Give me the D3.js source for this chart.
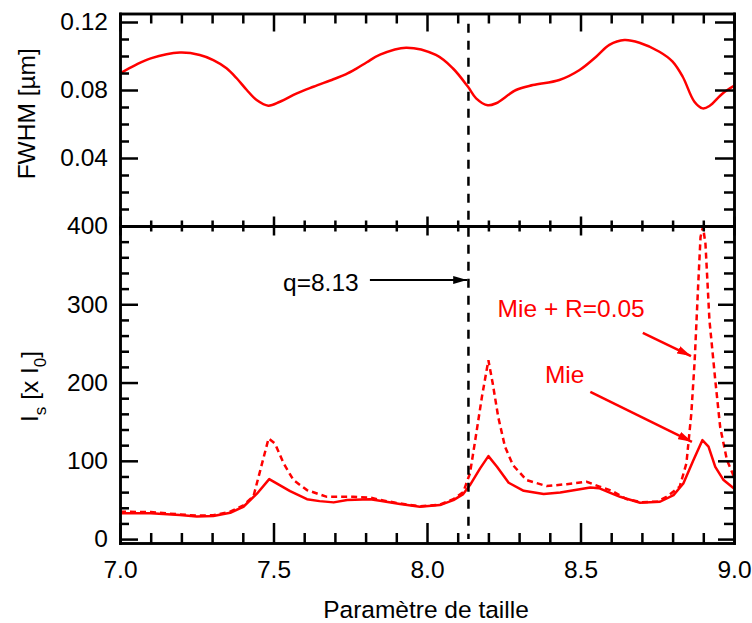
<!DOCTYPE html>
<html>
<head>
<meta charset="utf-8">
<script src="https://cdn.jsdelivr.net/npm/d3@7"></script>
<style>
  html, body { margin: 0; padding: 0; background: #fff; }
  svg { display: block; }
  text { font-family: "Liberation Sans", Arial, Helvetica, sans-serif; }
</style>
</head>
<body>
<script>
// ---------- data ----------
const fwhmX = [7.0, 7.05, 7.10, 7.195, 7.26, 7.304, 7.347, 7.38, 7.413, 7.445, 7.483, 7.521, 7.576, 7.63, 7.695, 7.735, 7.77, 7.804, 7.847,
  7.932, 8.029, 8.084, 8.133, 8.16, 8.198, 8.225, 8.29, 8.345, 8.431, 8.497, 8.551, 8.594, 8.643, 8.692, 8.757,
  8.80, 8.833, 8.871, 8.898, 8.92, 8.963, 9.0];
const fwhmY = [0.0898, 0.0947, 0.0986, 0.1020, 0.1006, 0.0976, 0.0928, 0.0869, 0.0800, 0.0741, 0.0708, 0.0731, 0.0780, 0.0819, 0.0863, 0.0892, 0.0926, 0.0963, 0.1008,
  0.1049, 0.1006, 0.0928, 0.0820, 0.0751, 0.0710, 0.0722, 0.0800, 0.0829, 0.0859, 0.0918, 0.0996, 0.1065, 0.1094, 0.1078, 0.1025,
  0.0967, 0.0878, 0.0731, 0.0692, 0.0706, 0.0780, 0.0824];

const mieX = [7.0, 7.1, 7.195, 7.25, 7.304, 7.359, 7.402, 7.446, 7.486, 7.52, 7.554, 7.609, 7.65, 7.696, 7.74, 7.815,
  7.847, 7.912, 7.977, 8.042, 8.086, 8.118, 8.14, 8.173, 8.2, 8.228, 8.266, 8.315, 8.38, 8.434, 8.532, 8.56,
  8.597, 8.629, 8.694, 8.759, 8.803, 8.835, 8.868, 8.897, 8.917, 8.939, 8.966, 9.0];
const mieY = [33, 33, 30.7, 29, 29.4, 33.6, 41.3, 58, 76.6, 69, 61.3, 51, 48.5, 46.9, 49.8, 51,
  49, 44.7, 41.3, 43.4, 49.8, 57.5, 69, 90.3, 106, 92.4, 72, 61.7, 57.5, 59.6, 66, 65,
  59, 54, 46.4, 47.7, 56.2, 71, 101, 126.4, 118, 92.3, 75.4, 64.7];

const mieRX = [7.0, 7.1, 7.195, 7.25, 7.304, 7.359, 7.402, 7.435, 7.457, 7.484, 7.505, 7.533, 7.565, 7.609, 7.674, 7.76,
  7.815, 7.847, 7.912, 7.977, 8.042, 8.086, 8.118, 8.14, 8.157, 8.179, 8.2, 8.214, 8.232, 8.254, 8.28, 8.324,
  8.39, 8.455, 8.52, 8.564, 8.6, 8.65, 8.7, 8.75, 8.78, 8.823, 8.845, 8.861, 8.872, 8.883, 8.891, 8.899,
  8.907, 8.92, 8.939, 8.955, 8.977, 9.0];
const mieRY = [35, 34.5, 31.5, 30, 30.5, 35, 43, 55, 88, 128.6, 122, 96.7, 75.4, 62.6, 54, 54,
  53, 50, 45.5, 42, 44, 51, 60, 84, 126, 182, 228.6, 199, 156, 118, 94.5, 75.4,
  67.7, 70.2, 73.2, 66.8, 62, 51, 47, 48, 54, 66.8, 96.7, 160.5, 228.6, 322, 386, 399,
  377.6, 279.7, 203, 143, 101, 79.6];

const xMajor = [7.0, 7.5, 8.0, 8.5, 9.0];
const xMinor = d3.range(7.1, 9.0, 0.1).map(v => +v.toFixed(1)).filter(v => !xMajor.includes(v));
const topMajor = [0.04, 0.08, 0.12];
const topMinor = [0.01, 0.02, 0.03, 0.05, 0.06, 0.07, 0.09, 0.10, 0.11];
const botMajor = [0, 100, 200, 300, 400];
const botMinor = [20, 40, 60, 80, 120, 140, 160, 180, 220, 240, 260, 280, 320, 340, 360, 380];

const qValue = 8.135;          // vertical dashed marker position
const qLabel = "q=8.13";
const xTitle = "Paramètre de taille";
const topTitle = "FWHM [µm]";

// ---------- layout ----------
const W = 752, H = 623;
const svg = d3.select("body").append("svg").attr("width", W).attr("height", H);
svg.append("rect").attr("width", W).attr("height", H).attr("fill", "#fff");

const x = d3.scaleLinear().domain([7, 9]).range([120, 734]);
const yTop = d3.scaleLinear().domain([0, 0.125]).range([226, 13.5]);
const yBot = d3.scaleLinear().domain([-5, 400]).range([543, 226]);

const FONT = 24.5;
const AXW = 2.5;

function styleAxis(g) {
  g.selectAll("path.domain").attr("stroke", "#000").attr("stroke-width", AXW).attr("stroke-linecap", "square");
  g.selectAll(".tick line").attr("stroke", "#000").attr("stroke-width", AXW);
  g.selectAll(".tick text").attr("font-size", FONT).attr("font-family", '"Liberation Sans", Arial, sans-serif').attr("fill", "#000");
  g.attr("font-size", null).attr("font-family", null);
}
function addAxis(axis, tx, ty) {
  const g = svg.append("g").attr("transform", `translate(${tx},${ty})`).call(axis);
  styleAxis(g);
  return g;
}

// ---------- curves ----------
const lineTop = d3.line().x(d => x(d[0])).y(d => yTop(d[1])).curve(d3.curveCatmullRom.alpha(0.5));
svg.append("path").datum(d3.zip(fwhmX, fwhmY)).attr("d", lineTop)
  .attr("fill", "none").attr("stroke", "#ff0000").attr("stroke-width", 2.5);

const lineBot = d3.line().x(d => x(d[0])).y(d => yBot(d[1]));
svg.append("path").datum(d3.zip(mieRX, mieRY)).attr("d", lineBot)
  .attr("fill", "none").attr("stroke", "#ff0000").attr("stroke-width", 2.5).attr("stroke-dasharray", "6,4");
svg.append("path").datum(d3.zip(mieX, mieY)).attr("d", lineBot)
  .attr("fill", "none").attr("stroke", "#ff0000").attr("stroke-width", 2.5).attr("stroke-linejoin", "round");

// dashed vertical marker
svg.append("line").attr("x1", x(qValue)).attr("x2", x(qValue))
  .attr("y1", yTop(0.119)).attr("y2", yBot(0))
  .attr("stroke", "#000").attr("stroke-width", 2.5).attr("stroke-dasharray", "9,8");

// ---------- axes ----------
addAxis(d3.axisBottom(x).tickValues(xMajor).tickSizeInner(-20).tickSizeOuter(0).tickPadding(18).tickFormat(d3.format(".1f")), 0, yBot(-5));
addAxis(d3.axisBottom(x).tickValues(xMinor).tickSizeInner(-10).tickSizeOuter(0).tickFormat(""), 0, yBot(-5));
addAxis(d3.axisTop(x).tickValues(xMajor).tickSizeInner(-18).tickSizeOuter(0).tickFormat(""), 0, yTop(0.125));
addAxis(d3.axisTop(x).tickValues(xMinor).tickSizeInner(-10).tickSizeOuter(0).tickFormat(""), 0, yTop(0.125));
addAxis(d3.axisTop(x).tickValues(xMajor).tickSizeInner(9.5).tickSizeOuter(0).tickFormat(""), 0, yTop(0));
addAxis(d3.axisTop(x).tickValues(xMinor).tickSizeInner(5.5).tickSizeOuter(0).tickFormat(""), 0, yTop(0));
addAxis(d3.axisBottom(x).tickValues(xMajor).tickSizeInner(9.5).tickSizeOuter(0).tickFormat(""), 0, yBot(400));
addAxis(d3.axisBottom(x).tickValues(xMinor).tickSizeInner(5.5).tickSizeOuter(0).tickFormat(""), 0, yBot(400));

addAxis(d3.axisLeft(yTop).tickValues(topMajor).tickSizeInner(-18).tickSizeOuter(0).tickPadding(12).tickFormat(d3.format(".2f")), x(7), 0);
addAxis(d3.axisLeft(yTop).tickValues(topMinor).tickSizeInner(-9).tickSizeOuter(0).tickFormat(""), x(7), 0);
addAxis(d3.axisRight(yTop).tickValues(topMajor).tickSizeInner(-19).tickSizeOuter(0).tickFormat(""), x(9), 0);
addAxis(d3.axisRight(yTop).tickValues(topMinor).tickSizeInner(-10).tickSizeOuter(0).tickFormat(""), x(9), 0);
addAxis(d3.axisLeft(yBot).tickValues(botMajor).tickSizeInner(-18).tickSizeOuter(0).tickPadding(12).tickFormat(d3.format("d")), x(7), 0);
addAxis(d3.axisLeft(yBot).tickValues(botMinor).tickSizeInner(-9).tickSizeOuter(0).tickFormat(""), x(7), 0);
addAxis(d3.axisRight(yBot).tickValues(botMajor).tickSizeInner(-16).tickSizeOuter(0).tickFormat(""), x(9), 0);
addAxis(d3.axisRight(yBot).tickValues(botMinor).tickSizeInner(-10).tickSizeOuter(0).tickFormat(""), x(9), 0);

// ---------- titles ----------
svg.append("text").attr("x", 426).attr("y", 618).attr("text-anchor", "middle")
  .attr("font-size", FONT).text(xTitle);
svg.append("text").attr("transform", `translate(35,${yTop(0.066)}) rotate(-90)`).attr("text-anchor", "middle")
  .attr("font-size", FONT).text(topTitle);
const ist = svg.append("text").attr("transform", `translate(38,${yBot(195)}) rotate(-90)`).attr("text-anchor", "middle")
  .attr("font-size", FONT);
ist.append("tspan").text("I");
ist.append("tspan").attr("font-size", 17).attr("dy", 8).text("s");
ist.append("tspan").attr("dy", -8).text(" [x I");
ist.append("tspan").attr("font-size", 17).attr("dy", 8).text("0");
ist.append("tspan").attr("dy", -8).text("]");

// ---------- annotations ----------
const defs = svg.append("defs");
function marker(id, color) {
  defs.append("marker").attr("id", id).attr("viewBox", "0 0 14 8").attr("refX", 14).attr("refY", 4)
    .attr("markerWidth", 14).attr("markerHeight", 8).attr("markerUnits", "userSpaceOnUse").attr("orient", "auto")
    .append("path").attr("d", "M0,0 L14,4 L0,8 Z").attr("fill", color);
}
marker("ahBlack", "#000");
marker("ahRed", "#ff0000");

svg.append("text").attr("x", x(7.531)).attr("y", yBot(317)).attr("font-size", FONT).attr("fill", "#000").text(qLabel);
svg.append("line").attr("x1", x(7.814)).attr("y1", yBot(331)).attr("x2", x(8.131)).attr("y2", yBot(331))
  .attr("stroke", "#000").attr("stroke-width", 2).attr("marker-end", "url(#ahBlack)");

svg.append("text").attr("x", x(8.230)).attr("y", yBot(284)).attr("font-size", FONT).attr("fill", "#ff0000").text("Mie + R=0.05");
svg.append("line").attr("x1", x(8.703)).attr("y1", yBot(263.6)).attr("x2", x(8.86)).attr("y2", yBot(233.9))
  .attr("stroke", "#ff0000").attr("stroke-width", 2.5).attr("marker-end", "url(#ahRed)");

svg.append("text").attr("x", x(8.384)).attr("y", yBot(199.7)).attr("font-size", FONT).attr("fill", "#ff0000").text("Mie");
svg.append("line").attr("x1", x(8.532)).attr("y1", yBot(188.2)).attr("x2", x(8.863)).attr("y2", yBot(124.3))
  .attr("stroke", "#ff0000").attr("stroke-width", 2.5).attr("marker-end", "url(#ahRed)");
</script>
</body>
</html>
